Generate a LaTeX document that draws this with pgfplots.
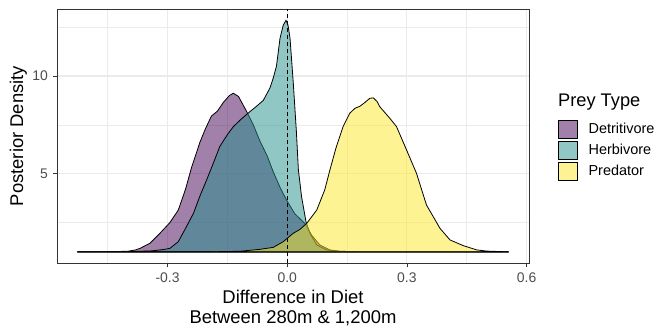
\documentclass[border=0pt]{standalone}
\usepackage{fontspec}
\setmainfont{Liberation Sans}
\usepackage{pgfplots}
\pgfplotsset{compat=1.18}
\definecolor{vpurple}{HTML}{440154}
\definecolor{vteal}{HTML}{21908C}
\definecolor{vyellow}{HTML}{FDE725}
\definecolor{gridgray}{HTML}{EBEBEB}
\definecolor{gray30}{HTML}{4D4D4D}
\definecolor{gray20}{HTML}{333333}
\begin{document}
\begin{tikzpicture}
\path[use as bounding box] (0,0) rectangle (657bp,328bp);
\begin{axis}[
  at={(57bp,65bp)}, anchor=south west,
  scale only axis, width=472bp, height=254bp,
  xmin=-0.577, xmax=0.606, ymin=0.43, ymax=13.43,
  xtick={-0.3,0,0.3,0.6}, xticklabels={-0.3,0.0,0.3,0.6},
  minor xtick={-0.45,-0.15,0.15,0.45},
  ytick={5,10}, yticklabels={5,10},
  minor ytick={2.5,7.5,12.5},
  grid=both,
  major grid style={color=gridgray, line width=1.1bp},
  minor grid style={color=gridgray, line width=0.55bp},
  axis line style={color=gray20, line width=0.8bp},
  tick align=outside, major tick length=4bp, minor tick length=0pt,
  xtick pos=bottom, ytick pos=left,
  tick style={color=gray20, line width=0.8bp},
  xticklabel style={font=\fontsize{14}{14}\selectfont, text=gray30, inner sep=0pt, anchor=north, yshift=-6bp},
  yticklabel style={font=\fontsize{14}{14}\selectfont, text=gray30, inner sep=0pt, anchor=east, xshift=-5bp},
  xlabel={Difference in Diet\\Between 280m \& 1,200m},
  xlabel style={at={(axis description cs:0.5,0)}, anchor=north, yshift=-26.5bp, inner sep=0pt, align=center, font=\fontsize{18.5}{21}\selectfont},
  ylabel={Posterior Density},
  ylabel style={at={(axis description cs:-0.0816,0.5)}, anchor=center, inner sep=0pt, font=\fontsize{18.5}{21}\selectfont},
  legend style={at={(axis description cs:1.0614,0.569)}, anchor=north west, draw=none, fill=none, inner sep=0pt, row sep=0pt, column sep=0pt,
    font=\fontsize{14.5}{15}\selectfont, nodes={inner sep=0pt}},
  legend cell align=left,
  legend image code/.code={\path[draw=none, fill=none] (0bp,-10.5bp) rectangle (30bp,10.5bp); \draw[#1] (0bp,-9bp) rectangle (19bp,9bp);},
]
\addplot[fill=vpurple, fill opacity=0.5, draw=black, line width=0.8bp] coordinates {
(-0.526,1.0) (-0.45,1.01) (-0.40,1.03) (-0.38,1.1) (-0.369,1.18) (-0.344,1.44) (-0.319,1.95) (-0.294,2.5) (-0.273,3.14) (-0.255,4.2) (-0.240,5.3) (-0.219,6.6) (-0.205,7.3) (-0.190,7.95) (-0.175,8.2) (-0.160,8.65) (-0.145,9.0) (-0.135,9.12) (-0.122,8.95) (-0.102,8.2) (-0.085,7.5) (-0.069,6.7) (-0.050,5.9) (-0.035,5.1) (-0.018,4.3) (-0.002,3.66) (0.019,2.95) (0.044,2.46) (0.061,1.86) (0.082,1.35) (0.107,1.10) (0.132,1.03) (0.2,1.0) (0.555,1.0)
} -- cycle;
\addlegendentry{Detritivore}
\addplot[fill=vteal, fill opacity=0.5, draw=black, line width=0.8bp] coordinates {
(-0.526,1.0) (-0.40,1.01) (-0.34,1.05) (-0.31,1.12) (-0.294,1.18) (-0.273,1.52) (-0.255,2.2) (-0.235,2.97) (-0.218,3.9) (-0.202,4.68) (-0.185,5.55) (-0.169,6.39) (-0.150,7.0) (-0.135,7.41) (-0.115,7.8) (-0.098,8.10) (-0.080,8.4) (-0.060,8.75) (-0.043,9.40) (-0.035,9.9) (-0.027,10.5) (-0.018,11.94) (-0.010,12.6) (-0.003,12.85) (0.002,12.6) (0.007,11.94) (0.015,9.71) (0.023,7.15) (0.028,5.2) (0.036,3.82) (0.047,2.55) (0.057,1.95) (0.074,1.35) (0.099,1.10) (0.132,1.03) (0.2,1.0) (0.555,1.0)
} -- cycle;
\addlegendentry{Herbivore}
\addplot[fill=vyellow, fill opacity=0.5, draw=black, line width=0.8bp] coordinates {
(-0.526,1.0) (-0.2,1.0) (-0.119,1.03) (-0.068,1.13) (-0.035,1.23) (-0.010,1.52) (0.015,1.95) (0.032,2.15) (0.049,2.46) (0.074,3.14) (0.094,4.17) (0.107,5.19) (0.122,6.3) (0.140,7.41) (0.157,8.10) (0.170,8.35) (0.182,8.45) (0.195,8.65) (0.207,8.86) (0.216,8.88) (0.225,8.7) (0.232,8.43) (0.257,7.84) (0.274,7.41) (0.299,6.22) (0.324,5.02) (0.349,3.4) (0.383,2.2) (0.408,1.61) (0.441,1.32) (0.475,1.10) (0.500,1.04) (0.555,1.0)
} -- cycle;
\addlegendentry{Predator}
\addplot[black, dashed, line width=0.8bp, dash pattern=on 4bp off 3bp, forget plot] coordinates {(0,0.43) (0,13.43)};
\end{axis}
\node[anchor=west, inner sep=0pt, font=\fontsize{18.3}{20}\selectfont] at (558bp,226.3bp) {Prey Type};
\end{tikzpicture}
\end{document}
